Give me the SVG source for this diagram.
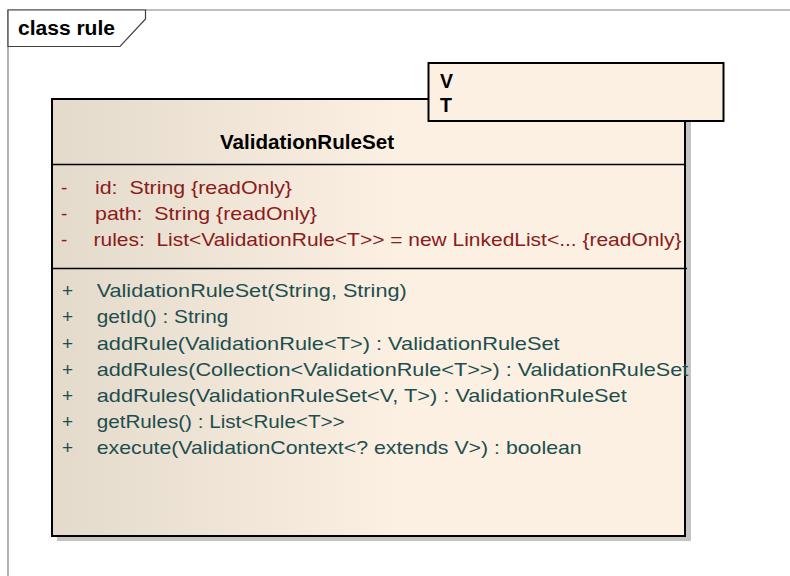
<svg xmlns="http://www.w3.org/2000/svg" width="790" height="576" viewBox="0 0 790 576">
  <style>
    .frame { fill: none; stroke: #7f7f7f; stroke-width: 1.2; }
    .tab { fill: #ffffff; stroke: #404040; stroke-width: 1.2; }
    .box { stroke: #000000; stroke-width: 2; }
    .sep { stroke: #000000; stroke-width: 1.6; }
    .shadow { fill: #c4c4c4; }
    text { white-space: pre; }
    .bold { font-family: "Liberation Sans", Arial, sans-serif; font-weight: bold; font-size: 19.5px; fill: #000000; }
    .attr { font-family: "Liberation Sans", Arial, sans-serif; font-size: 19px; fill: #8b1a1a; }
    .op { font-family: "Liberation Sans", Arial, sans-serif; font-size: 19px; fill: #1d4e4e; }
  </style>
  <defs>
    <linearGradient id="classFill" x1="0" y1="0" x2="1" y2="0">
      <stop offset="0" stop-color="#e4dacb"/>
      <stop offset="0.55" stop-color="#fbf0e2"/>
      <stop offset="1" stop-color="#fbf0e2"/>
    </linearGradient>
  </defs>

  <rect width="790" height="576" fill="#ffffff"/>

  <!-- diagram frame -->
  <g id="frame">
    <path class="frame" d="M8,576 L8,10 L790,10"/>
    <path class="tab" d="M8,10 L145.5,10 L145.5,19 L120,46.5 L8,46.5 Z"/>
    <text class="bold" x="18" y="35" textLength="97" lengthAdjust="spacingAndGlyphs">class rule</text>
  </g>

  <!-- class ValidationRuleSet -->
  <g id="ValidationRuleSet">
    <rect class="shadow" x="57" y="104" width="634" height="437"/>
    <rect class="box" x="52" y="99" width="633" height="437" fill="url(#classFill)"/>
    <text class="bold" x="220" y="149" textLength="174" lengthAdjust="spacingAndGlyphs">ValidationRuleSet</text>
    <line class="sep" x1="52" y1="164.5" x2="685" y2="164.5"/>

    <text class="attr" x="61" y="194">-</text>
    <text class="attr" x="95" y="194" textLength="197" lengthAdjust="spacingAndGlyphs">id:  String {readOnly}</text>
    <text class="attr" x="61" y="220">-</text>
    <text class="attr" x="95" y="220" textLength="222" lengthAdjust="spacingAndGlyphs">path:  String {readOnly}</text>
    <text class="attr" x="61" y="245.5">-</text>
    <text class="attr" x="93.5" y="245.5" textLength="588" lengthAdjust="spacingAndGlyphs">rules:  List&lt;ValidationRule&lt;T&gt;&gt; = new LinkedList&lt;... {readOnly}</text>

    <line class="sep" x1="52" y1="268.5" x2="687" y2="268.5"/>

    <text class="op" x="62" y="297">+</text>
    <text class="op" x="96.7" y="297" textLength="310" lengthAdjust="spacingAndGlyphs">ValidationRuleSet(String, String)</text>
    <text class="op" x="62" y="323">+</text>
    <text class="op" x="96.7" y="323" textLength="131.6" lengthAdjust="spacingAndGlyphs">getId() : String</text>
    <text class="op" x="62" y="349.5">+</text>
    <text class="op" x="96.7" y="349.5" textLength="463" lengthAdjust="spacingAndGlyphs">addRule(ValidationRule&lt;T&gt;) : ValidationRuleSet</text>
    <text class="op" x="62" y="376">+</text>
    <text class="op" x="96.7" y="376" textLength="591.6" lengthAdjust="spacingAndGlyphs">addRules(Collection&lt;ValidationRule&lt;T&gt;&gt;) : ValidationRuleSet</text>
    <text class="op" x="62" y="402">+</text>
    <text class="op" x="96.7" y="402" textLength="530" lengthAdjust="spacingAndGlyphs">addRules(ValidationRuleSet&lt;V, T&gt;) : ValidationRuleSet</text>
    <text class="op" x="62" y="428">+</text>
    <text class="op" x="96.7" y="428" textLength="248" lengthAdjust="spacingAndGlyphs">getRules() : List&lt;Rule&lt;T&gt;&gt;</text>
    <text class="op" x="62" y="454">+</text>
    <text class="op" x="96.7" y="454" textLength="485" lengthAdjust="spacingAndGlyphs">execute(ValidationContext&lt;? extends V&gt;) : boolean</text>
  </g>

  <!-- template parameters -->
  <g id="templateParams">
    <rect class="box" x="428.5" y="63" width="295" height="58" fill="#fbf0e2"/>
    <text class="bold" x="440" y="88.3">V</text>
    <text class="bold" x="440" y="112.3">T</text>
  </g>

  <g id="connectors"/>
</svg>
